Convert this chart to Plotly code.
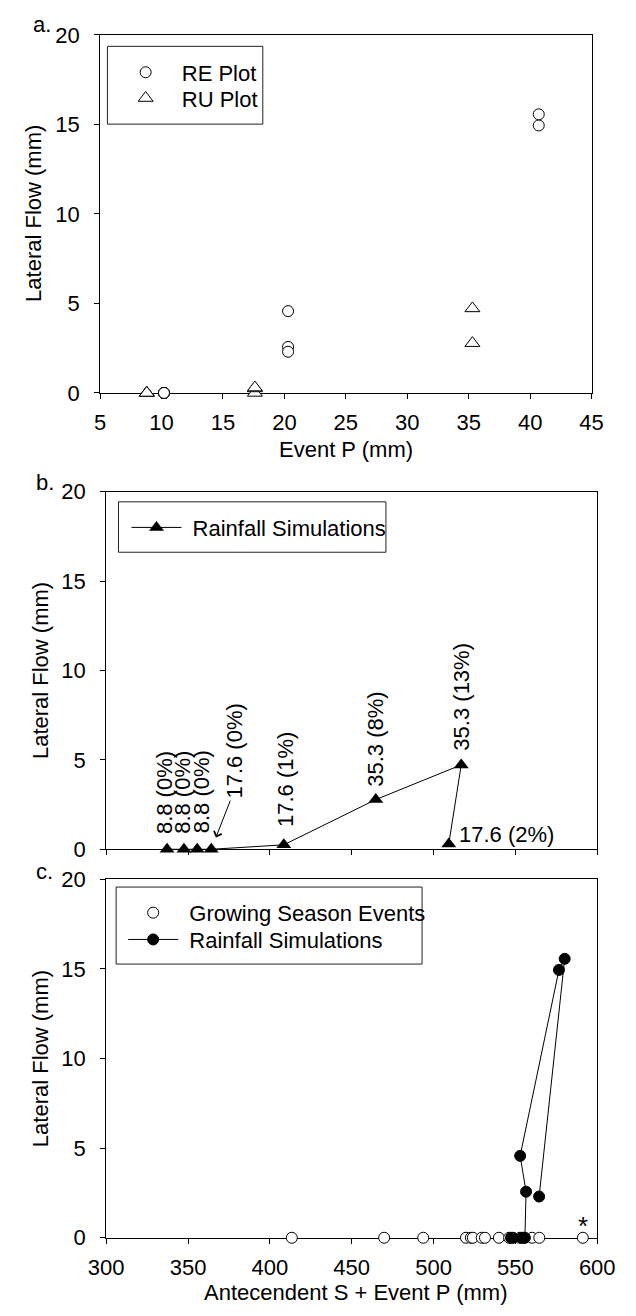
import plotly.graph_objects as go

# ---------------- data ----------------
# RE plot rainfall simulations
re_event_p = [10.2, 10.2, 10.2, 10.2, 20.3, 20.3, 40.7, 40.7, 20.3]
re_flow = [0, 0, 0, 0, 2.57, 4.57, 14.94, 15.56, 2.3]
re_sp = [547.3, 548.6, 553.8, 555.8, 556.5, 552.9, 576.6, 580.1, 564.5]

# RU plot rainfall simulations
ru_event_p = [8.8, 8.8, 8.8, 17.6, 17.6, 35.3, 35.3, 17.6]
ru_flow = [0, 0, 0, 0, 0.25, 2.78, 4.72, 0.3]
ru_sp = [337.2, 347.5, 355.6, 364.2, 408.5, 464.7, 516.9, 509.3]
ru_labels = ["8.8 (0%)", "8.8 (0%)", "8.8 (0%)", "17.6 (0%)", "17.6 (1%)",
             "35.3 (8%)", "35.3 (13%)", "17.6 (2%)"]

# Growing season events
gs_sp = [413.4, 469.8, 493.7, 519.8, 522.8, 524.0, 529.4, 531.4, 539.9,
         546.2, 552.7, 555.0, 560.2, 564.6, 591.2]
gs_flow = [0] * len(gs_sp)

# ---------------- layout helpers ----------------
W, H = 636, 1316
FONT = "Liberation Sans, Arial, sans-serif"
FS = 22
NB = "\u00a0"


def fx(p):
    return p / W


def fy(p):
    return 1 - p / H


fig = go.Figure()

hollow = dict(color="white", line=dict(color="black", width=1))

# panel a
fig.add_trace(go.Scatter(
    x=re_event_p, y=re_flow, mode="markers", name=NB + "RE Plot",
    marker=dict(symbol="circle", size=11, **hollow), showlegend=True,
    xaxis="x", yaxis="y", legend="legend", cliponaxis=False))
fig.add_trace(go.Scatter(
    x=ru_event_p, y=ru_flow, mode="markers", name=NB + "RU Plot",
    marker=dict(symbol="triangle-up", size=13, **hollow), showlegend=True,
    xaxis="x", yaxis="y", legend="legend2", cliponaxis=False))

# panel b
fig.add_trace(go.Scatter(
    x=ru_sp, y=ru_flow, mode="lines+markers", name=NB + "Rainfall Simulations",
    line=dict(color="black", width=1), showlegend=True,
    marker=dict(symbol="triangle-up", size=13, color="black"),
    xaxis="x2", yaxis="y2", legend="legend3", cliponaxis=False))

# panel c
fig.add_trace(go.Scatter(
    x=gs_sp, y=gs_flow, mode="markers", name=NB + "Growing Season Events",
    marker=dict(symbol="circle", size=11, **hollow), showlegend=True,
    xaxis="x3", yaxis="y3", legend="legend4", cliponaxis=False))
fig.add_trace(go.Scatter(
    x=re_sp, y=re_flow, mode="lines+markers", name=NB + "Rainfall Simulations",
    line=dict(color="black", width=1), showlegend=True,
    marker=dict(symbol="circle", size=11, color="black",
                line=dict(color="black", width=1)),
    xaxis="x3", yaxis="y3", legend="legend5", cliponaxis=False))

axis_common = dict(
    showline=True, linecolor="black", linewidth=1, mirror=True,
    ticks="outside", ticklen=5, tickwidth=1, tickcolor="black",
    showgrid=False, zeroline=False, layer="below traces",
    tickfont=dict(size=FS, color="black", family=FONT),
)
xstd = dict(ticklabelstandoff=5)
ystd = dict(ticklabelstandoff=10)

dom_a_x = [fx(87), fx(608)]
dom_bc_x = [fx(93.5), fx(614)]
dom_a_y = [fy(388.3), fy(23.3)]
dom_b_y = [fy(853.5), fy(489)]
dom_c_y = [fy(1249.5), fy(884)]

fig.update_layout(
    width=W, height=H,
    margin=dict(l=0, r=0, t=0, b=0),
    paper_bgcolor="white", plot_bgcolor="white",
    showlegend=True,
    font=dict(family=FONT, size=FS, color="black"),
    xaxis=dict(domain=dom_a_x, range=[5, 45], dtick=5, tick0=5,
               anchor="y", **axis_common, **xstd),
    yaxis=dict(domain=dom_a_y, range=[0, 20], dtick=5,
               anchor="x", **axis_common, **ystd),
    xaxis2=dict(domain=dom_bc_x, range=[300, 600], dtick=50, tick0=300,
                showticklabels=False, anchor="y2", **axis_common),
    yaxis2=dict(domain=dom_b_y, range=[0, 20], dtick=5,
                anchor="x2", **axis_common, **ystd),
    xaxis3=dict(domain=dom_bc_x, range=[300, 600], dtick=50, tick0=300,
                anchor="y3", **axis_common, **xstd),
    yaxis3=dict(domain=dom_c_y, range=[0, 20], dtick=5,
                anchor="x3", **axis_common, **ystd),
)

# one legend per entry so each row sits where the reference has it
leg_common = dict(xanchor="left", yanchor="top", bgcolor="rgba(0,0,0,0)",
                  borderwidth=0, itemwidth=50, tracegroupgap=0,
                  visible=True,
                  font=dict(size=FS, family=FONT, color="black"))
ROW = 20.8  # distance from legend top to its row centre
fig.update_layout(
    legend=dict(x=fx(103.5), y=fy(61 - ROW), **leg_common),
    legend2=dict(x=fx(103.5), y=fy(87.3 - ROW), **leg_common),
    legend3=dict(x=fx(115), y=fy(525 - ROW), **leg_common),
    legend4=dict(x=fx(111.5), y=fy(917.7 - ROW), **leg_common),
    legend5=dict(x=fx(111.5), y=fy(945 - ROW), **leg_common),
)

# legend frames
for x0, x1, y0, y1 in [(94.8, 259.5, 35, 114.3),
                       (106.5, 390, 499.3, 550.7),
                       (104, 428.3, 892, 970.5)]:
    fig.add_shape(type="rect", xref="paper", yref="paper",
                  x0=fx(x0), x1=fx(x1), y0=fy(y1), y1=fy(y0),
                  line=dict(color="#222", width=1), fillcolor="rgba(0,0,0,0)")

ann = []
# panel letters
for txt, x, y in [("a.", 14, 12.4), ("b.", 16.5, 479.4), ("c.", 16.5, 876.4)]:
    ann.append(dict(text=txt, x=fx(x), y=fy(y), xref="paper", yref="paper",
                    xanchor="left", yanchor="middle", showarrow=False))
# y titles
for x, y in [(17, 205.8), (24, 671.2), (24, 1066.8)]:
    ann.append(dict(text="Lateral Flow (mm)", x=fx(x), y=fy(y),
                    xref="paper", yref="paper", textangle=-90,
                    xanchor="center", yanchor="middle", showarrow=False))
# x titles
ann.append(dict(text="Event P (mm)", x=fx(348), y=fy(445.5), xref="paper",
                yref="paper", xanchor="center", yanchor="middle",
                showarrow=False))
ann.append(dict(text="Antecendent S + Event P (mm)", x=fx(358), y=fy(1305),
                xref="paper", yref="paper", xanchor="center",
                yanchor="middle", showarrow=False))

# panel b point labels (pixel offsets from each point)
label_dx = [-3.3, -1.4, 3.8, 23, 1.5, 0, 0, 8]
label_dy = [13.5, 13.5, 13.5, 48.5, 15.6, 11.1, 12.5, 9]
for i, txt in enumerate(ru_labels):
    if i == len(ru_labels) - 1:
        ann.append(dict(text=txt, x=ru_sp[i], y=ru_flow[i], xref="x2",
                        yref="y2", xanchor="left", yanchor="middle",
                        xshift=label_dx[i], yshift=label_dy[i],
                        showarrow=False))
    else:
        ann.append(dict(text=txt, x=ru_sp[i], y=ru_flow[i], xref="x2",
                        yref="y2", xanchor="center", yanchor="bottom",
                        textangle=-90, xshift=label_dx[i],
                        yshift=label_dy[i], showarrow=False))
# arrow to the 17.6 (0%) point
ann.append(dict(text="", x=ru_sp[3], y=ru_flow[3], xref="x2", yref="y2",
                xshift=4.6, yshift=11.8, showarrow=True, ax=15, ay=-38.4,
                arrowhead=4, arrowsize=1.6, arrowwidth=1, arrowcolor="black"))

# asterisk above the last growing-season event
ann.append(dict(text="*", x=gs_sp[-1], y=gs_flow[-1], xref="x3", yref="y3",
                xanchor="center", yanchor="middle", yshift=12,
                font=dict(size=26), showarrow=False))

fig.update_layout(annotations=ann)

fig.write_html("out.html")
